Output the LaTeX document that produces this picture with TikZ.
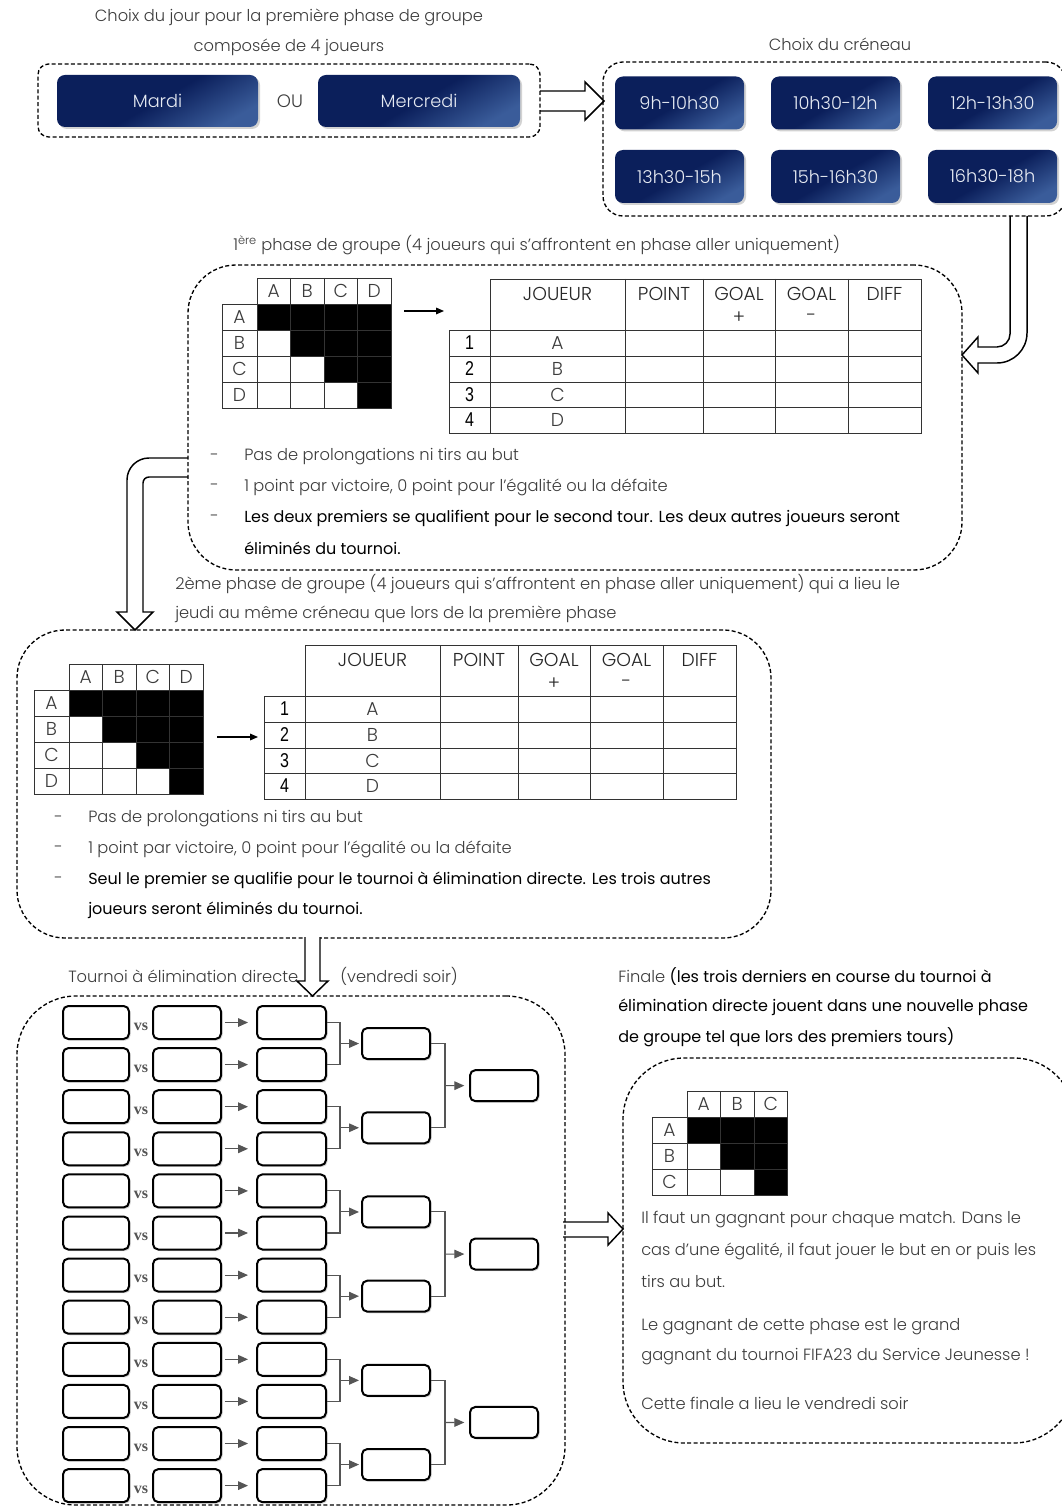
\documentclass[tikz,border=0pt]{standalone}
\usepackage{fontspec}
\setmainfont{Poppins}[UprightFont={* Light},BoldFont={*}]
\newfontfamily\boldish{Poppins}
\newfontfamily\numfont{Liberation Sans}
\newfontfamily\vsfont{Liberation Serif}
\usetikzlibrary{arrows.meta,shadows,calc}
\definecolor{navyA}{HTML}{0B1F5B}
\definecolor{navyB}{HTML}{3A5C9A}
\definecolor{ink}{HTML}{3C3C3C}
\definecolor{linkgray}{HTML}{555555}
\definecolor{gridline}{HTML}{333333}
\tikzset{
  sz/.style 2 args={minimum width=#1*0.75pt, minimum height=#2*0.75pt},
  dbox/.style={draw=black, line width=1pt, dash pattern=on 3pt off 1.8pt, inner sep=0pt},
  bluebox/.style={rectangle, rounded corners=6pt, inner sep=0pt, top color=navyA, bottom color=navyB, middle color=navyA, shading angle=30, text=white!88!navyB, font=\fontsize{13.3}{15}\selectfont, drop shadow={opacity=0.35, shadow xshift=1.5pt, shadow yshift=-1.5pt}},
  hollow/.style={draw=black, fill=white, line width=1.1pt, line join=miter},
  ltxt/.style={anchor=west, inner sep=0pt, text=ink, font=\fontsize{12.2}{14}\selectfont},
  ctxt/.style={anchor=center, inner sep=0pt, text=ink, font=\fontsize{12.2}{14}\selectfont},
  btxt/.style={anchor=west, inner sep=0pt, text=black, font=\boldish\fontsize{12}{14}\selectfont},
  wbox/.style={rectangle, rounded corners=4pt, draw=black, line width=1.5pt, fill=white, inner sep=0pt, drop shadow={opacity=0.3, shadow xshift=1.2pt, shadow yshift=-1.2pt}},
  vslab/.style={inner sep=0pt, text=linkgray, font=\vsfont\bfseries\fontsize{12}{13}\selectfont},
  link/.style={draw=linkgray, line width=0.8pt},
  linkarr/.style={link, -{Triangle[length=7.5pt,width=6.5pt]}},
  smallarr/.style={draw=black, line width=0.8pt, -{Triangle[length=6pt,width=5pt]}},
  grid/.style={draw=gridline, line width=0.6pt},
  celltxt/.style={inner sep=0pt, text=ink, font=\fontsize{14}{15}\selectfont},
  hdtxt/.style={inner sep=0pt, text=black!85, font=\fontsize{14}{15}\selectfont},
  numtxt/.style={inner sep=0pt, text=black, font=\numfont\fontsize{15}{16}\selectfont},
}
\newcommand{\grptable}[1]{%
  \draw[grid] (41,0) rectangle (472,154);
  \draw[grid] (0,51) rectangle (41,154);
  \foreach \gx in {176,254,326,399} {\draw[grid] (\gx,0) -- (\gx,154);}
  \foreach \gy in {77,103,128} {\draw[grid] (0,\gy) -- (472,\gy);}
  \draw[grid] (41,51) -- (472,51);
  \node[hdtxt] (#1-hj) at (108.5,15) {JOUEUR};
  \node[hdtxt] (#1-hp) at (215,15) {POINT};
  \node[hdtxt] (#1-hg) at (290,15) {GOAL};
  \node[hdtxt] (#1-hgp) at (290,39) {+};
  \node[hdtxt] (#1-hh) at (362.5,15) {GOAL};
  \node[hdtxt] (#1-hhm) at (362.5,39) {-};
  \node[hdtxt] (#1-hd) at (435.5,15) {DIFF};
  \foreach \nn/\lt/\ry in {1/A/64,2/B/90,3/C/115.5,4/D/141} {
    \node[numtxt] (#1-n\nn) at (20.5,\ry) {\scalebox{0.8}[1]{\nn}};
    \node[celltxt] (#1-p\nn) at (108.5,\ry) {\lt};
  }
}
\newcommand{\grpmatrix}[2]{%
  \foreach \ri in {1,...,#2} {
    \foreach \cj in {\ri,...,#2} {
      \fill ({35+33.5*(\cj-1)},{26*\ri}) rectangle ({35+33.5*\cj},{26*\ri+26});
    }
  }
  \draw[grid] (35,0) rectangle ({35+33.5*#2},{26*(#2+1)});
  \draw[grid] (0,26) rectangle (35,{26*(#2+1)});
  \foreach \kk in {1,...,#2} {
    \draw[grid] ({35+33.5*\kk},0) -- ({35+33.5*\kk},{26*(#2+1)});
    \draw[grid] (0,{26*\kk}) -- ({35+33.5*#2},{26*\kk});
  }
  \foreach \lab [count=\kk] in {A,B,C,D} {
    \ifnum\kk>#2\relax\else
      \node[celltxt] (#1-c\kk) at ({35+33.5*(\kk-0.5)},13) {\lab};
      \node[celltxt] (#1-r\kk) at (17.5,{26*\kk+13}) {\lab};
    \fi
  }
}
\begin{document}
\begin{tikzpicture}[x=0.75pt,y=-0.75pt]
\useasboundingbox (0,0) rectangle (1062,1508);
\clip (0,0) rectangle (1062,1508);
\fill[white] (0,0) rectangle (1062,1508);

% ---------- hollow arrows (drawn first)
\draw[hollow] (540,91) -- (585,91) -- (585,82) -- (604,101) -- (585,120) -- (585,111) -- (540,111);
\draw[hollow] (1027,216) -- (1027,333) arc[start angle=0, end angle=90, radius=30] -- (978,363) -- (978,373) -- (962,355) -- (978,337) -- (978,347) -- (997,347) arc[start angle=90, end angle=0, radius=13] -- (1010,216);
\draw[hollow] (188,458) -- (149,458) arc[start angle=270, end angle=180, radius=22] -- (127,612) -- (117,612) -- (135,630) -- (153,612) -- (143,612) -- (143,483) arc[start angle=180, end angle=270, radius=6] -- (188,477);
\draw[hollow] (563,1222) -- (608,1222) -- (608,1213) -- (623,1229) -- (608,1245) -- (608,1237) -- (563,1237);

% ---------- day choice
\node[ctxt] (titleA1) at (289,17) {Choix du jour pour la première phase de groupe};
\node[ctxt] (titleA2) at (289,47) {composée de 4 joueurs};
\node[dbox, rounded corners=8pt, sz={502}{73}] (B1) at (289,100.5) {};
\node[bluebox, sz={201}{52}] (mardi) at (157.5,101) {Mardi};
\node[bluebox, sz={202}{52}] (mercredi) at (419,101) {Mercredi};
\node[ctxt, font=\fontsize{13.5}{15}\selectfont] (ou) at (290,101) {OU};

% ---------- slots
\node[ctxt] (titleB) at (840,44) {Choix du créneau};
\node[dbox, rounded corners=15pt, sz={463}{154}] (B2) at (834.5,139) {};
\foreach \nm/\tx/\cx/\cy in {s1/9h-10h30/679.5/103, s2/10h30-12h/835.5/103, s3/12h-13h30/992.5/103, s4/13h30-15h/679.5/176.5, s5/15h-16h30/835.5/176.5, s6/16h30-18h/992.5/176.5}
  {\node[bluebox, sz={129}{53}] (\nm) at (\cx,\cy) {\tx};}

% ---------- first group phase
\node[ltxt] (titleC) at (233,245) {1\textsuperscript{ère} phase de groupe (4 joueurs qui s'affrontent en phase aller uniquement)};
\node[dbox, rounded corners=36pt, sz={774}{305}] (B3) at (575,417.5) {};
\begin{scope}[shift={(222,278)}]\grpmatrix{m1}{4}\end{scope}
\coordinate (a1s) at (404,311);
\coordinate (a1e) at (444,311);
\draw[smallarr] (a1s) -- (a1e);
\begin{scope}[shift={(449,279)}]\grptable{t1}\end{scope}
\node[ltxt] (d1a) at (210,457) {-};
\node[ltxt] (d1b) at (210,487) {-};
\node[ltxt] (d1c) at (210,518) {-};
\node[ltxt] (b1a) at (244,457) {Pas de prolongations ni tirs au but};
\node[ltxt] (b1b) at (244,487) {1 point par victoire, 0 point pour l'égalité ou la défaite};
\node[btxt] (b1c) at (244,518) {Les deux premiers se qualifient pour le second tour. Les deux autres joueurs seront};
\node[btxt] (b1d) at (244,548) {éliminés du tournoi.};

% ---------- second group phase
\node[ltxt] (titleD1) at (175,584) {2ème phase de groupe (4 joueurs qui s'affrontent en phase aller uniquement) qui a lieu le};
\node[ltxt] (titleD2) at (175,614) {jeudi au même créneau que lors de la première phase};
\node[dbox, rounded corners=36pt, sz={754}{308}] (B4) at (394,784) {};
\begin{scope}[shift={(34,664)}]\grpmatrix{m2}{4}\end{scope}
\coordinate (a2s) at (217,737);
\coordinate (a2e) at (258,737);
\draw[smallarr] (a2s) -- (a2e);
\begin{scope}[shift={(264,645)}]\grptable{t2}\end{scope}
\node[ltxt] (d2a) at (54,819) {-};
\node[ltxt] (d2b) at (54,849) {-};
\node[ltxt] (d2c) at (54,880) {-};
\node[ltxt] (b2a) at (88,819) {Pas de prolongations ni tirs au but};
\node[ltxt] (b2b) at (88,849) {1 point par victoire, 0 point pour l'égalité ou la défaite};
\node[btxt] (b2c) at (88,880) {Seul le premier se qualifie pour le tournoi à élimination directe. Les trois autres};
\node[btxt] (b2d) at (88,910) {joueurs seront éliminés du tournoi.};

% ---------- knockout
\node[ltxt] (titleE) at (68,976) {Tournoi à élimination directe};
\node[ltxt] (titleE2) at (340,976) {(vendredi soir)};
\draw[hollow] (305,937) -- (305,981) -- (297,981) -- (312.5,996) -- (328,981) -- (320,981) -- (320,937);
\node[dbox, rounded corners=44pt, sz={548}{509}] (B5) at (291,1250.5) {};
\foreach \i in {1,...,12} {
  \pgfmathsetmacro\yy{1022.5+42.1*(\i-1)}
  \node[wbox, sz={66}{33}] (pa\i) at (96,\yy) {};
  \node[wbox, sz={68}{33}] (pb\i) at (187,\yy) {};
  \node[vslab] (vs\i) at (141,{\yy+4}) {vs};
  \node[wbox, sz={69}{33}] (w\i) at (291.5,\yy) {};
  \draw[linkarr, shorten <=2.2pt, shorten >=6pt] (pb\i) -- (w\i);
}
\foreach \k in {1,...,6} {
  \pgfmathtruncatemacro\ia{2*\k-1}
  \pgfmathtruncatemacro\ib{2*\k}
  \pgfmathsetmacro\yy{1022.5+42.1*(2*\k-1.5)}
  \node[wbox, sz={68}{31}] (q\k) at (396,\yy) {};
  \draw[link] (w\ia.east) -- ++(13,0) |- (w\ib.east);
  \draw[linkarr, shorten >=1.5pt] ($(w\ia.east)!0.5!(w\ib.east)+(13,0)$) -- (q\k.west);
}
\foreach \m in {1,2,3} {
  \pgfmathtruncatemacro\ka{2*\m-1}
  \pgfmathtruncatemacro\kb{2*\m}
  \pgfmathsetmacro\yy{1022.5+42.1*(4*\m-2.5)}
  \node[wbox, sz={68}{31}] (f\m) at (504,\yy) {};
  \draw[link] (q\ka.east) -- ++(14,0) |- (q\kb.east);
  \draw[linkarr, shorten >=3.5pt] ($(q\ka.east)!0.5!(q\kb.east)+(14,0)$) -- (f\m.west);
}

% ---------- final
\node[ltxt] (fin1) at (618,977) {Finale {\boldish\fontsize{12}{14}\selectfont\color{black}(les trois derniers en course du tournoi à}};
\node[btxt] (fin2) at (618,1007) {élimination directe jouent dans une nouvelle phase};
\node[btxt] (fin3) at (618,1037) {de groupe tel que lors des premiers tours)};
\node[dbox, rounded corners=46pt, sz={452}{385}] (B6) at (849,1250.5) {};
\begin{scope}[shift={(652,1091)}]\grpmatrix{m3}{3}\end{scope}
\node[ltxt] (g1) at (641,1220) {Il faut un gagnant pour chaque match. Dans le};
\node[ltxt] (g2) at (641,1251) {cas d'une égalité, il faut jouer le but en or puis les};
\node[ltxt] (g3) at (641,1281) {tirs au but.};
\node[ltxt] (g4) at (641,1327) {Le gagnant de cette phase est le grand};
\node[ltxt] (g5) at (641,1357) {gagnant du tournoi FIFA23 du Service Jeunesse !};
\node[ltxt] (g6) at (641,1403) {Cette finale a lieu le vendredi soir};
\end{tikzpicture}
\end{document}
